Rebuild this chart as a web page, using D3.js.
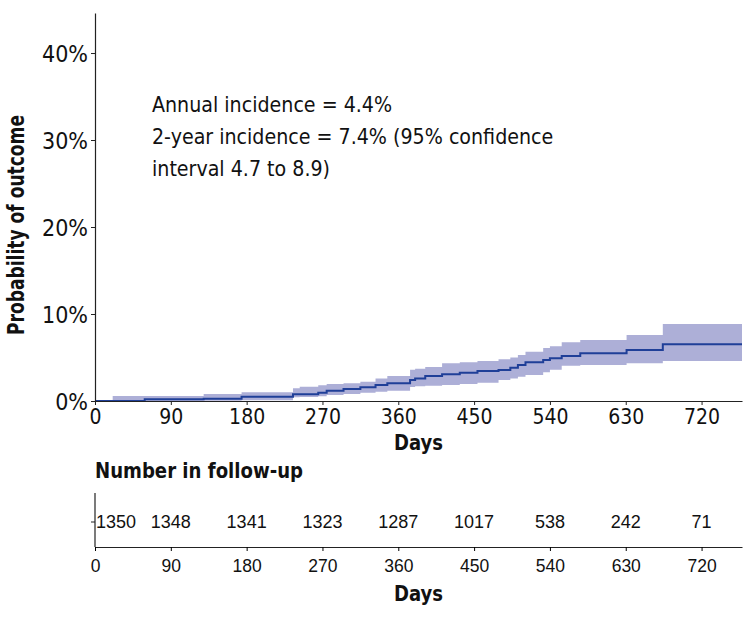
<!DOCTYPE html>
<html>
<head>
<meta charset="utf-8">
<script src="https://cdn.jsdelivr.net/npm/d3@7"></script>
<style>
  body { margin: 0; background: #fff; }
  text { fill: #111; }
</style>
</head>
<body>
<svg id="main" width="749" height="621"></svg>
<script>
// Kaplan-Meier style cumulative incidence (percent)
const days     = [0, 21, 59, 129, 174, 235, 243, 265, 275, 295, 315, 333, 347, 374, 380, 392, 412, 433, 454, 479, 493, 502, 511, 532, 540, 554, 576, 631, 674, 768];
const estimate = [0, 0, 0.2, 0.25, 0.5, 0.77, 0.77, 0.95, 1.18, 1.38, 1.57, 1.84, 2.03, 2.4, 2.6, 2.87, 3.07, 3.25, 3.45, 3.56, 3.83, 4.14, 4.45, 4.7, 4.9, 5.17, 5.48, 5.86, 6.52, 6.52];
const lower    = [0, 0, 0, 0.02, 0.1, 0.42, 0.45, 0.55, 0.69, 0.8, 0.95, 1.05, 1.18, 1.6, 1.7, 1.75, 1.84, 1.95, 2.1, 2.4, 2.6, 2.8, 3.0, 3.3, 3.6, 4.06, 4.14, 4.33, 4.6, 4.6];
const upper    = [0, 0.57, 0.57, 0.8, 1.0, 1.46, 1.64, 1.8, 1.95, 2.05, 2.2, 2.6, 2.87, 3.6, 3.7, 3.9, 4.33, 4.45, 4.6, 4.8, 5.0, 5.3, 5.67, 6.1, 6.3, 6.75, 7.0, 7.6, 8.85, 8.85];

const dayTicks = [0, 90, 180, 270, 360, 450, 540, 630, 720];
const probTicks = [0, 0.1, 0.2, 0.3, 0.4];
const atRisk = [1350, 1348, 1341, 1323, 1287, 1017, 538, 242, 71];

const notes = [
    "Annual incidence = 4.4%",
    "2-year incidence = 7.4% (95% confidence",
    "interval 4.7 to 8.9)"
];

const narrow = "'DejaVu Sans Condensed', 'Liberation Sans Narrow', sans-serif";
const plain = "'Liberation Sans', Arial, sans-serif";

const svg = d3.select("#main");

const x = d3.scaleLinear().domain([0, 768]).range([95, 742]);
const y = d3.scaleLinear().domain([0, 0.446]).range([401, 13]);

const pts = days.map((d, i) => ({ d, est: estimate[i] / 100, lo: lower[i] / 100, hi: upper[i] / 100 }));

// confidence band
svg.append("path")
    .datum(pts)
    .attr("fill", "#adafd7")
    .attr("d", d3.area()
        .curve(d3.curveStepAfter)
        .x(p => x(p.d))
        .y0(p => y(p.lo))
        .y1(p => y(p.hi)));

// estimate line
svg.append("path")
    .datum(pts)
    .attr("fill", "none")
    .attr("stroke", "#1f3f98")
    .attr("stroke-width", 2)
    .attr("d", d3.line()
        .curve(d3.curveStepAfter)
        .x(p => x(p.d))
        .y(p => y(p.est)));

// axes
const xAxis = svg.append("g")
    .attr("transform", `translate(0,${y(0)})`)
    .call(d3.axisBottom(x).tickValues(dayTicks).tickSize(4).tickSizeOuter(0));
xAxis.selectAll("text").attr("font-family", narrow).attr("font-size", 21).attr("dy", "0.78em");

const yAxis = svg.append("g")
    .attr("transform", `translate(${x(0)},0)`)
    .call(d3.axisLeft(y).tickValues(probTicks).tickFormat(d3.format(".0%")).tickSize(4).tickSizeOuter(0));
yAxis.selectAll("text").attr("font-family", narrow).attr("font-size", 23).attr("dy", "0.36em");

svg.selectAll(".domain").attr("stroke", "#222").attr("stroke-width", 1.2);
svg.selectAll(".tick line").attr("stroke", "#222");
svg.selectAll(".tick text").attr("fill", "#111");

svg.append("text")
    .attr("transform", `translate(24,${225}) rotate(-90)`)
    .attr("text-anchor", "middle")
    .attr("font-family", narrow)
    .attr("font-weight", "bold")
    .attr("font-size", 23)
    .attr("textLength", 220)
    .attr("lengthAdjust", "spacingAndGlyphs")
    .text("Probability of outcome");

svg.append("text")
    .attr("x", (x(0) + x(768)) / 2)
    .attr("y", 450)
    .attr("text-anchor", "middle")
    .attr("font-family", narrow)
    .attr("font-weight", "bold")
    .attr("font-size", 21)
    .attr("textLength", 49)
    .attr("lengthAdjust", "spacingAndGlyphs")
    .text("Days");

// annotation
svg.selectAll(".note")
    .data(notes)
    .enter()
    .append("text")
    .classed("note", true)
    .attr("x", 152)
    .attr("y", (d, i) => 112 + i * 32)
    .attr("font-family", narrow)
    .attr("font-size", 21.2)
    .text(d => d);

// risk table
const tTop = 493, tBottom = 547, tRow = 522;

svg.append("text")
    .attr("x", 95)
    .attr("y", 478)
    .attr("font-family", narrow)
    .attr("font-weight", "bold")
    .attr("font-size", 21)
    .attr("textLength", 208)
    .attr("lengthAdjust", "spacingAndGlyphs")
    .text("Number in follow-up");

svg.append("line")
    .attr("x1", x(0)).attr("x2", x(0))
    .attr("y1", tTop).attr("y2", tBottom)
    .attr("stroke", "#222").attr("stroke-width", 1.2);
svg.append("line")
    .attr("x1", x(0) - 4).attr("x2", x(0))
    .attr("y1", tRow).attr("y2", tRow)
    .attr("stroke", "#222");

const tAxis = svg.append("g")
    .attr("transform", `translate(0,${tBottom})`)
    .call(d3.axisBottom(x).tickValues(dayTicks).tickSize(4).tickSizeOuter(0));
tAxis.select(".domain").attr("stroke", "#222").attr("stroke-width", 1.2);
tAxis.selectAll("text").attr("font-family", plain).attr("font-size", 17.5).attr("fill", "#222").attr("dy", "1.05em");

svg.selectAll(".risk")
    .data(atRisk)
    .enter()
    .append("text")
    .classed("risk", true)
    .attr("x", (d, i) => i === 0 ? x(dayTicks[i]) + 1 : x(dayTicks[i]))
    .attr("y", tRow)
    .attr("dy", "0.36em")
    .attr("text-anchor", (d, i) => i === 0 ? "start" : "middle")
    .attr("font-family", plain)
    .attr("font-size", 18)
    .attr("fill", "#222")
    .text(d => d);

svg.append("text")
    .attr("x", (x(0) + x(768)) / 2)
    .attr("y", 601)
    .attr("text-anchor", "middle")
    .attr("font-family", narrow)
    .attr("font-weight", "bold")
    .attr("font-size", 22)
    .attr("textLength", 49)
    .attr("lengthAdjust", "spacingAndGlyphs")
    .text("Days");
</script>
</body>
</html>
